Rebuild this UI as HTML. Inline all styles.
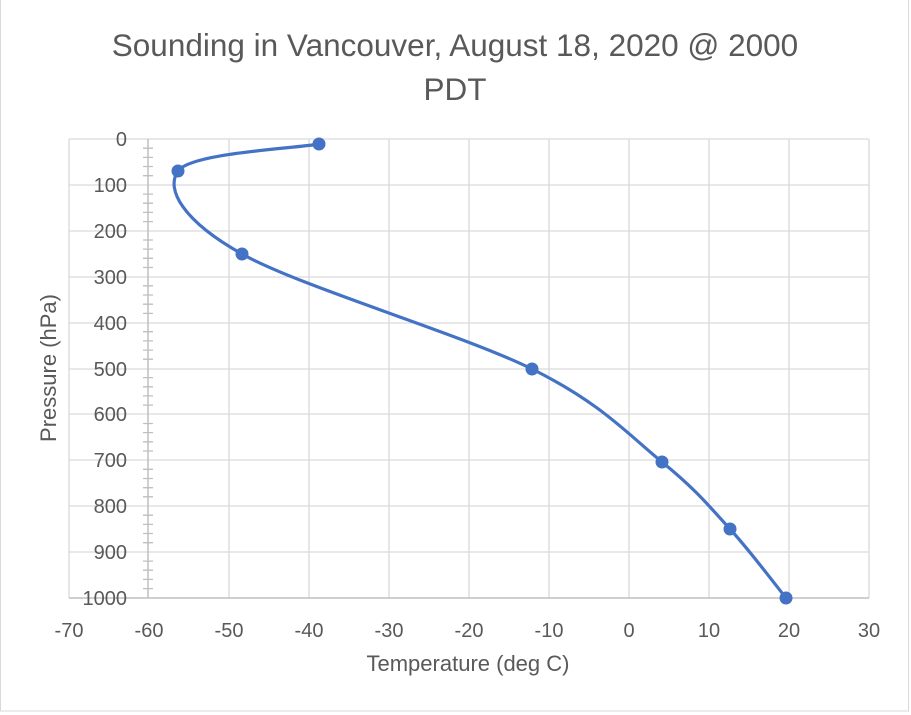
<!DOCTYPE html>
<html><head><meta charset="utf-8"><style>
html,body{margin:0;padding:0;background:#fff;}
svg{display:block;font-family:"Liberation Sans",sans-serif;}
</style></head><body>
<svg width="911" height="715" viewBox="0 0 911 715" xmlns="http://www.w3.org/2000/svg">
<rect x="0.5" y="-2" width="908" height="713" fill="#fff" stroke="#d9d9d9"/>
<g stroke="#d9d9d9" stroke-width="1.3">
<line x1="69" y1="139" x2="869" y2="139"/>
<line x1="69" y1="185" x2="869" y2="185"/>
<line x1="69" y1="231" x2="869" y2="231"/>
<line x1="69" y1="277" x2="869" y2="277"/>
<line x1="69" y1="323" x2="869" y2="323"/>
<line x1="69" y1="369" x2="869" y2="369"/>
<line x1="69" y1="414" x2="869" y2="414"/>
<line x1="69" y1="460" x2="869" y2="460"/>
<line x1="69" y1="506" x2="869" y2="506"/>
<line x1="69" y1="552" x2="869" y2="552"/>
<line x1="69" y1="139" x2="69" y2="598"/>
<line x1="229" y1="139" x2="229" y2="598"/>
<line x1="309" y1="139" x2="309" y2="598"/>
<line x1="389" y1="139" x2="389" y2="598"/>
<line x1="469" y1="139" x2="469" y2="598"/>
<line x1="549" y1="139" x2="549" y2="598"/>
<line x1="629" y1="139" x2="629" y2="598"/>
<line x1="709" y1="139" x2="709" y2="598"/>
<line x1="789" y1="139" x2="789" y2="598"/>
<line x1="869" y1="139" x2="869" y2="598"/>
</g>
<line x1="69" y1="598" x2="869" y2="598" stroke="#bfbfbf" stroke-width="1.5"/>
<line x1="148" y1="139" x2="148" y2="598" stroke="#bfbfbf" stroke-width="1.5"/>
<path stroke="#bfbfbf" stroke-width="1.3" d="M143,148.2h10M143,157.4h10M143,166.5h10M143,175.7h10M143,194.1h10M143,203.2h10M143,212.4h10M143,221.6h10M143,240h10M143,249.1h10M143,258.3h10M143,267.5h10M143,285.8h10M143,295h10M143,304.2h10M143,313.4h10M143,331.7h10M143,340.9h10M143,350.1h10M143,359.2h10M143,377.6h10M143,386.8h10M143,395.9h10M143,405.1h10M143,423.5h10M143,432.6h10M143,441.8h10M143,451h10M143,469.3h10M143,478.5h10M143,487.7h10M143,496.8h10M143,515.2h10M143,524.4h10M143,533.5h10M143,542.7h10M143,561.1h10M143,570.2h10M143,579.4h10M143,588.6h10"/>
<g fill="#595959" font-size="20" text-anchor="end">
<text x="127" y="146">0</text>
<text x="127" y="192">100</text>
<text x="127" y="238">200</text>
<text x="127" y="284">300</text>
<text x="127" y="330">400</text>
<text x="127" y="376">500</text>
<text x="127" y="421">600</text>
<text x="127" y="467">700</text>
<text x="127" y="513">800</text>
<text x="127" y="559">900</text>
<text x="127" y="605">1000</text>
</g>
<g fill="#595959" font-size="20" text-anchor="middle">
<text x="69" y="637">-70</text>
<text x="149" y="637">-60</text>
<text x="229" y="637">-50</text>
<text x="309" y="637">-40</text>
<text x="389" y="637">-30</text>
<text x="469" y="637">-20</text>
<text x="549" y="637">-10</text>
<text x="629" y="637">0</text>
<text x="709" y="637">10</text>
<text x="789" y="637">20</text>
<text x="869" y="637">30</text>
<text x="468" y="671" font-size="22">Temperature (deg C)</text>
<text x="455" y="56" font-size="31.5">Sounding in Vancouver, August 18, 2020 @ 2000</text>
<text x="455" y="100" font-size="31.5">PDT</text>
<text transform="translate(56,368) rotate(-90)" font-size="22">Pressure (hPa)</text>
</g>
<path d="M319,144 C295.5,148.5 190.8,152.7 178,171 C165.2,189.3 183,221 242,254 C301,287 462,334.3 532,369 C602,403.7 629,435.3 662,462 C695,488.7 709.3,506.3 730,529 C750.7,551.7 776.7,586.5 786,598" fill="none" stroke="#4472c4" stroke-width="3.2"/>
<g fill="#4472c4">
<circle cx="319" cy="144" r="6.5"/>
<circle cx="178" cy="171" r="6.5"/>
<circle cx="242" cy="254" r="6.5"/>
<circle cx="532" cy="369" r="6.5"/>
<circle cx="662" cy="462" r="6.5"/>
<circle cx="730" cy="529" r="6.5"/>
<circle cx="786" cy="598" r="6.5"/>
</g>
</svg>
</body></html>
